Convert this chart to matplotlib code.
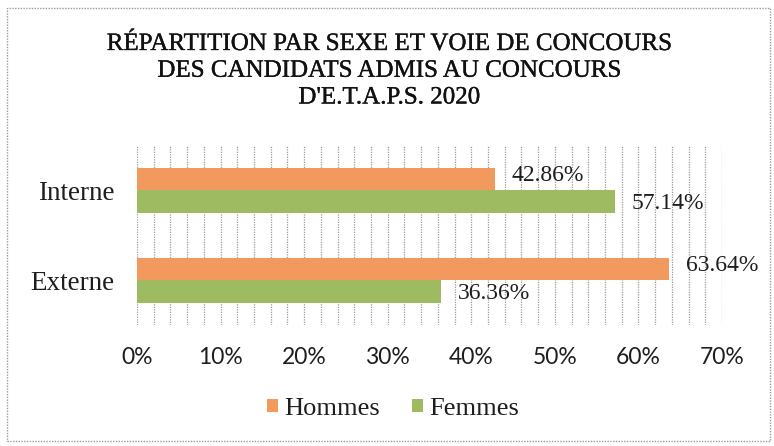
import numpy as np
import matplotlib.pyplot as plt
import matplotlib.patheffects as pe
from matplotlib.patches import Rectangle

# -----------------------------------------------------
#  Data
# -----------------------------------------------------
categories = ["Interne", "Externe"]
hommes = [42.86, 63.64]
femmes = [57.14, 36.36]
series_names = ["Hommes", "Femmes"]
xticks = [0, 10, 20, 30, 40, 50, 60, 70]
title = ("RÉPARTITION PAR SEXE ET VOIE DE CONCOURS\n"
         "DES CANDIDATS ADMIS AU CONCOURS\n"
         "D'E.T.A.P.S. 2020")

orange = "#F29A5E"
green = "#9EBB62"
serif = "Liberation Serif"
ink = "#1e1e1e"

# -----------------------------------------------------
#  Figure
# -----------------------------------------------------
fig = plt.figure(figsize=(7.74, 4.46), dpi=100)
fig.patch.set_facecolor("white")

# outer chart frame
fig.patches.append(Rectangle((7 / 774, 5 / 446), 763 / 774, 433 / 446,
                             transform=fig.transFigure, fill=False,
                             edgecolor="#9a9a9a", linewidth=1.0,
                             linestyle=(0, (1, 1))))

fig.text(0.503, 1 - 33 / 446, title, ha="center", va="top", family=serif,
         fontsize=18, color="#111111", linespacing=1.28,
         path_effects=[pe.withStroke(linewidth=0.25, foreground="#111111")])

ax = fig.add_axes([137 / 774, 1 - 325 / 446, (722 - 137) / 774, 180 / 446])

y = np.arange(len(categories))
h = 0.25
ax.barh(y - h / 2, hommes, height=h, color=orange, label=series_names[0])
ax.barh(y + h / 2, femmes, height=h, color=green, label=series_names[1])

for i in range(len(categories)):
    ax.text(hommes[i] + 2.0, y[i] - h / 2 - 0.04, f"{hommes[i]:.2f}%",
            va="center", ha="left", family=serif, fontsize=17, color=ink)
    ax.text(femmes[i] + 2.0, y[i] + h / 2 + 0.02, f"{femmes[i]:.2f}%",
            va="center", ha="left", family=serif, fontsize=17, color=ink)

ax.set_xlim(0, 70)
ax.set_ylim(1.5, -0.5)
ax.set_yticks(y)
ax.set_yticklabels(categories, family=serif, fontsize=19.5, color=ink)
ax.set_xticks(xticks)
ax.set_xticklabels([f"{v}%" for v in xticks], family="Lato",
                   fontsize=16.5, color=ink)
ax.tick_params(axis="both", length=0)
ax.tick_params(axis="x", pad=16)
ax.tick_params(axis="y", pad=16)

ax.set_xticks(np.arange(0, 71, 2), minor=True)
ax.tick_params(axis="x", which="minor", length=0)
ax.grid(True, axis="x", which="both", color="#9c9c9c", linestyle=(0, (1, 1)),
        linewidth=0.9)
ax.set_axisbelow(True)
for s in ax.spines.values():
    s.set_visible(False)

leg = fig.legend(loc="center", bbox_to_anchor=(0.508, 1 - 409 / 446), ncol=2,
                 frameon=False, fontsize=19,
                 handlelength=0.4, handleheight=0.4, handletextpad=0.25,
                 columnspacing=1.2)
for t in leg.get_texts():
    t.set_family(serif)
    t.set_color(ink)

fig.savefig("out.png", dpi=100)
